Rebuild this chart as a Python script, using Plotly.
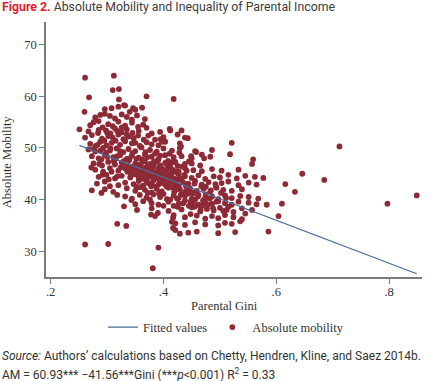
import plotly.graph_objects as go

# ---------------- data ----------------
# Parental Gini (x) and Absolute Mobility (y), grouped by band of mobility
gini_top = [
    0.261, 0.312, 0.310, 0.321, 0.268, 0.321, 0.370, 0.418, 0.330, 0.260, 0.346, 0.362, 0.251, 0.411,
    0.296, 0.308, 0.320, 0.332, 0.350, 0.340,
    0.279, 0.288, 0.296, 0.305, 0.314, 0.326, 0.335, 0.353, 0.367, 0.344,
    0.270, 0.276, 0.285, 0.302, 0.320, 0.332, 0.344, 0.364, 0.310, 0.292, 0.355,
    0.267, 0.285, 0.314, 0.326, 0.335, 0.356, 0.370, 0.394, 0.412, 0.432, 0.300, 0.345, 0.379,
]
am_top = [
    63.6, 64.0, 61.2, 61.4, 59.8, 59.4, 60.0, 59.5, 58.3, 57.0, 57.7, 57.8, 53.6, 53.7,
    57.5, 57.7, 58.0, 58.2, 57.4, 57.0,
    55.9, 56.4, 56.6, 56.2, 55.7, 56.5, 56.0, 56.3, 55.6, 55.5,
    54.4, 55.0, 55.2, 54.6, 55.1, 54.3, 54.9, 54.5, 54.2, 54.0, 54.1,
    53.2, 53.5, 53.8, 53.0, 53.6, 53.3, 53.9, 53.1, 53.4, 53.4, 53.0, 52.9, 52.8,
]

gini_upper = [
    0.261, 0.273, 0.291, 0.302, 0.320, 0.329, 0.338, 0.347, 0.373, 0.385, 0.400, 0.438, 0.425, 0.443, 0.310, 0.355, 0.365, 0.395,
    0.270, 0.288, 0.299, 0.308, 0.323, 0.332, 0.344, 0.358, 0.370, 0.379, 0.391, 0.403, 0.429, 0.521, 0.280, 0.315, 0.350, 0.397,
    0.267, 0.279, 0.293, 0.305, 0.317, 0.329, 0.338, 0.350, 0.361, 0.376, 0.388, 0.400, 0.415, 0.429, 0.456, 0.486, 0.431, 0.298, 0.323, 0.345, 0.368,
]
am_upper = [
    52.0, 52.5, 51.8, 52.3, 52.6, 51.7, 52.2, 51.9, 52.4, 51.6, 52.1, 52.0, 52.6, 51.9, 52.0, 52.4, 51.6, 51.7,
    50.8, 51.2, 50.5, 51.0, 50.6, 51.3, 50.9, 50.4, 51.1, 50.7, 50.5, 51.2, 50.9, 51.0, 50.4, 51.4, 51.0, 51.2,
    49.7, 49.3, 50.0, 49.5, 49.9, 49.2, 49.8, 49.4, 50.1, 49.6, 49.3, 49.9, 49.5, 50.0, 49.4, 49.6, 50.3, 49.1, 49.4, 49.0, 49.2,
]

gini_middle = [
    0.273, 0.285, 0.296, 0.311, 0.323, 0.335, 0.344, 0.356, 0.367, 0.379, 0.391, 0.403, 0.418, 0.432, 0.450, 0.468, 0.483, 0.518, 0.458, 0.428, 0.449, 0.472, 0.290, 0.315, 0.340, 0.362, 0.385,
    0.276, 0.291, 0.302, 0.314, 0.326, 0.338, 0.350, 0.358, 0.367, 0.376, 0.385, 0.394, 0.403, 0.412, 0.421, 0.438, 0.450, 0.465, 0.557, 0.559, 0.330, 0.345, 0.372, 0.390, 0.408, 0.425, 0.445,
    0.279, 0.293, 0.305, 0.320, 0.332, 0.344, 0.353, 0.361, 0.370, 0.379, 0.388, 0.397, 0.406, 0.415, 0.427, 0.438, 0.453, 0.468, 0.486, 0.503, 0.533, 0.340, 0.357, 0.366, 0.374, 0.383, 0.392, 0.401, 0.410, 0.420,
]
am_middle = [
    48.4, 48.0, 48.7, 48.2, 48.6, 47.9, 48.5, 48.1, 48.8, 48.3, 47.8, 48.6, 48.2, 48.4, 48.0, 48.7, 48.3, 48.8, 49.2, 49.1, 48.4, 48.0, 47.8, 47.9, 48.0, 47.8, 48.9,
    47.0, 46.6, 47.3, 46.8, 47.2, 46.5, 47.0, 46.7, 47.4, 46.9, 47.2, 46.6, 47.1, 46.8, 47.3, 46.9, 47.0, 46.6, 46.9, 47.8, 47.5, 46.4, 46.5, 47.6, 47.5, 46.5, 47.4,
    45.8, 45.4, 46.1, 45.6, 46.0, 45.3, 45.9, 45.5, 46.2, 45.7, 45.3, 46.0, 45.6, 45.9, 45.4, 46.1, 45.7, 45.5, 45.9, 45.6, 45.8, 46.3, 46.3, 45.2, 46.0, 46.3, 45.8, 45.2, 46.3, 45.5,
]

gini_lower = [
    0.285, 0.299, 0.314, 0.326, 0.341, 0.350, 0.356, 0.364, 0.373, 0.382, 0.391, 0.400, 0.409, 0.418, 0.427, 0.438, 0.450, 0.462, 0.474, 0.489, 0.500, 0.515, 0.530, 0.545, 0.562, 0.577, 0.646, 0.346, 0.360, 0.369, 0.378, 0.387, 0.396, 0.405, 0.414, 0.423, 0.432,
    0.282, 0.296, 0.320, 0.332, 0.347, 0.356, 0.364, 0.373, 0.382, 0.391, 0.400, 0.409, 0.418, 0.427, 0.435, 0.444, 0.456, 0.468, 0.480, 0.492, 0.503, 0.515, 0.533, 0.551, 0.565, 0.616, 0.685, 0.352, 0.369, 0.378, 0.387, 0.396, 0.405, 0.414, 0.422, 0.440,
    0.273, 0.296, 0.311, 0.335, 0.350, 0.358, 0.367, 0.379, 0.388, 0.397, 0.409, 0.421, 0.429, 0.438, 0.447, 0.459, 0.471, 0.483, 0.494, 0.506, 0.521, 0.539, 0.633, 0.290, 0.305, 0.372, 0.392, 0.415, 0.452, 0.475,
]
am_lower = [
    44.4, 44.8, 44.1, 44.6, 44.3, 44.9, 44.2, 44.7, 44.4, 44.0, 44.8, 44.3, 44.6, 44.1, 44.9, 44.5, 44.2, 44.7, 44.0, 44.5, 44.3, 44.8, 44.1, 44.6, 44.4, 44.2, 45.0, 45.0, 44.0, 45.0, 44.9, 44.2, 45.0, 44.0, 45.0, 43.9, 44.0,
    43.1, 43.5, 42.8, 43.3, 43.0, 43.6, 42.7, 43.2, 43.7, 42.9, 43.4, 43.0, 43.5, 42.8, 43.3, 43.1, 43.6, 42.9, 43.4, 43.0, 43.2, 43.5, 42.8, 43.3, 42.9, 43.0, 43.8, 42.5, 43.7, 42.6, 42.5, 43.7, 42.6, 43.8, 42.5, 42.6,
    41.8, 42.0, 41.5, 42.2, 41.7, 42.4, 41.9, 41.4, 42.1, 41.6, 42.3, 41.8, 42.0, 41.5, 42.2, 41.7, 42.1, 41.6, 42.3, 41.9, 41.7, 42.0, 41.5, 41.3, 42.6, 41.3, 41.2, 42.4, 41.2, 42.5,
]

gini_bottom = [
    0.318, 0.332, 0.344, 0.358, 0.370, 0.382, 0.394, 0.406, 0.418, 0.427, 0.438, 0.450, 0.462, 0.474, 0.486, 0.497, 0.509, 0.521, 0.536, 0.551, 0.568, 0.376, 0.400, 0.412, 0.444, 0.456,
    0.343, 0.350, 0.364, 0.379, 0.391, 0.409, 0.427, 0.438, 0.450, 0.462, 0.474, 0.486, 0.497, 0.509, 0.521, 0.533, 0.551, 0.565, 0.583, 0.610, 0.400, 0.418, 0.445, 0.470, 0.797,
    0.330, 0.353, 0.379, 0.409, 0.432, 0.450, 0.465, 0.477, 0.489, 0.500, 0.512, 0.524, 0.539, 0.557, 0.545, 0.390, 0.425, 0.455,
    0.378, 0.385, 0.417, 0.418, 0.438, 0.459, 0.474, 0.486, 0.497, 0.509, 0.524, 0.539, 0.604, 0.448,
    0.318, 0.334, 0.415, 0.417, 0.421, 0.438, 0.456, 0.474, 0.497, 0.509, 0.521, 0.536,
    0.421, 0.429, 0.444, 0.459, 0.497, 0.527, 0.586,
    0.261, 0.302, 0.391, 0.381, 0.712, 0.849,
]
am_bottom = [
    40.9, 40.6, 40.2, 40.9, 40.4, 41.0, 40.5, 40.1, 40.8, 40.3, 40.7, 40.2, 40.9, 40.4, 40.6, 40.1, 40.8, 40.3, 40.7, 40.5, 40.2, 40.0, 41.1, 40.0, 41.2, 40.0,
    39.9, 39.1, 39.7, 39.3, 39.0, 39.6, 39.2, 39.8, 39.4, 39.0, 39.5, 39.2, 39.7, 39.3, 39.0, 39.6, 39.4, 39.1, 39.0, 39.2, 38.8, 38.8, 38.8, 38.9, 39.2,
    38.7, 38.0, 38.3, 37.8, 38.1, 38.5, 37.7, 38.2, 37.9, 38.4, 38.0, 37.6, 38.3, 38.0, 37.3, 37.4, 38.6, 38.6,
    37.1, 36.8, 36.5, 37.0, 36.6, 36.9, 36.3, 36.8, 36.4, 37.0, 36.6, 36.2, 36.8, 37.2,
    35.3, 34.9, 35.7, 34.5, 35.4, 35.1, 35.6, 35.2, 35.0, 35.5, 35.3, 35.8,
    34.1, 33.4, 33.6, 33.8, 33.5, 33.7, 33.8,
    31.3, 31.4, 30.7, 26.7, 50.3, 40.8,
]

gini_dense = [
    0.360, 0.368, 0.376, 0.384, 0.392, 0.400, 0.408, 0.362, 0.371, 0.380, 0.389, 0.398, 0.407, 0.416,
    0.355, 0.364, 0.374, 0.383, 0.393, 0.402, 0.411, 0.420, 0.429, 0.437, 0.441, 0.433, 0.424, 0.415,
    0.348, 0.342, 0.336, 0.339, 0.352, 0.371, 0.394, 0.411,
    0.443, 0.452, 0.461, 0.470, 0.479, 0.488, 0.448, 0.457, 0.466, 0.475, 0.484, 0.493,
    0.502, 0.511, 0.515, 0.506, 0.494, 0.482, 0.467, 0.455, 0.431, 0.424, 0.435, 0.419,
    0.284, 0.295, 0.306, 0.318, 0.329, 0.288, 0.300, 0.312, 0.324, 0.335, 0.326,
    0.318, 0.306, 0.298, 0.283, 0.276, 0.272, 0.286, 0.308, 0.318, 0.303, 0.292,
]
am_dense = [
    46.9, 46.2, 45.5, 44.7, 43.9, 43.1, 42.4, 44.3, 43.5, 42.8, 45.1, 45.9, 46.6, 47.3,
    45.0, 45.8, 46.6, 47.4, 46.3, 44.6, 43.6, 42.9, 43.9, 44.8, 45.6, 46.4, 45.2, 44.2,
    46.0, 44.6, 45.4, 47.6, 47.9, 48.2, 48.5, 48.9,
    42.2, 41.4, 40.6, 39.8, 39.0, 38.3, 39.6, 38.9, 38.1, 41.0, 41.8, 42.5,
    41.3, 40.3, 38.6, 37.8, 39.6, 40.2, 42.6, 43.1, 41.0, 40.2, 39.3, 41.5,
    52.9, 51.4, 49.9, 48.4, 47.0, 49.5, 48.3, 47.4, 46.2, 52.6, 54.0,
    53.3, 52.8, 53.4, 50.6, 49.8, 46.2, 46.9, 45.4, 44.5, 43.9, 44.8,
]

# Regression reported in the note: AM = 60.93 - 41.56 * Gini
fit_intercept = 60.93
fit_slope = -41.56

x_tick_values = [0.2, 0.4, 0.6, 0.8]
x_tick_labels = [".2", ".4", ".6", ".8"]
y_tick_values = [30, 40, 50, 60, 70]
y_tick_labels = ["30", "40", "50", "60", "70"]

# ---------------- assemble ----------------
pairs = [(gini_top, am_top), (gini_upper, am_upper), (gini_middle, am_middle),
         (gini_lower, am_lower), (gini_bottom, am_bottom), (gini_dense, am_dense)]
gini, mobility = [], []
for gx, ay in pairs:
    assert len(gx) == len(ay), (len(gx), len(ay))
    gini += gx
    mobility += ay

fit_x = [min(gini), max(gini)]
fit_y = [fit_intercept + fit_slope * v for v in fit_x]

SERIF = "Liberation Serif, DejaVu Serif, serif"
SANS = "Roboto, Liberation Sans, sans-serif"
AXIS_GRAY = "#7a7a7a"
TEXT = "#333333"

fig = go.Figure()
fig.add_trace(go.Scatter(
    x=gini, y=mobility, mode="markers", name="Absolute mobility",
    marker=dict(color="#8d2a35", size=5.8, line=dict(width=0)),
    legendrank=2, hoverinfo="skip"))
fig.add_trace(go.Scatter(
    x=fit_x, y=fit_y, mode="lines", name="Fitted values",
    line=dict(color="#4a6e9f", width=1.2),
    legendrank=1, hoverinfo="skip"))

L, R, T, B = 46, 18, 22, 103.5
W, H = 440, 381
pw, ph = W - L - R, H - T - B


def px_to_paper(px, py):
    return (px - L) / pw, (H - B - py) / ph


ann = []
x0, y0 = px_to_paper(0, 6.5)
ann.append(dict(x=x0, y=y0, xref="paper", yref="paper", xanchor="left", yanchor="middle",
                showarrow=False, align="left",
                text='<span style="color:#e0202e"><b>Figure 2.</b></span> Absolute Mobility and Inequality of Parental Income',
                font=dict(family=SANS, size=12.3, color="#3c3c3c")))
x0, y0 = px_to_paper(6.5, 162)
ann.append(dict(x=x0, y=y0, xref="paper", yref="paper", xanchor="center", yanchor="middle",
                showarrow=False, textangle=-90, text="Absolute Mobility",
                font=dict(family=SERIF, size=12.5, color=TEXT)))
x0, y0 = px_to_paper(224, 307)
ann.append(dict(x=x0, y=y0, xref="paper", yref="paper", xanchor="center", yanchor="middle",
                showarrow=False, text="Parental Gini",
                font=dict(family=SERIF, size=12.5, color=TEXT)))
x0, y0 = px_to_paper(0, 356.5)
ann.append(dict(x=x0, y=y0, xref="paper", yref="paper", xanchor="left", yanchor="middle",
                showarrow=False, align="left",
                text="<i>Source:</i> Authors’ calculations based on Chetty, Hendren, Kline, and Saez 2014b.",
                font=dict(family=SANS, size=12, color=TEXT)))
x0, y0 = px_to_paper(0, 375)
ann.append(dict(x=x0, y=y0, xref="paper", yref="paper", xanchor="left", yanchor="middle",
                showarrow=False, align="left",
                text="AM = 60.93*** −41.56***Gini (***<i>p</i>&lt;0.001) R<sup>2</sup> = 0.33",
                font=dict(family=SANS, size=12, color=TEXT)))

lx, ly = px_to_paper(226, 328)

axis_common = dict(showline=True, linecolor=AXIS_GRAY, linewidth=1.5, ticks="outside",
                   ticklen=5, tickwidth=1.3, tickcolor=AXIS_GRAY, showgrid=False,
                   zeroline=False, automargin=False,
                   tickfont=dict(family=SERIF, size=12.5, color=TEXT))

fig.update_layout(
    width=W, height=H, margin=dict(l=L, r=R, t=T, b=B, pad=0, autoexpand=False),
    paper_bgcolor="white", plot_bgcolor="white",
    xaxis=dict(range=[0.1917, 0.8583], tickvals=x_tick_values, ticktext=x_tick_labels,
               ticklabelstandoff=-3, **axis_common),
    yaxis=dict(range=[25.01, 74.39], tickvals=y_tick_values, ticktext=y_tick_labels, **axis_common),
    showlegend=True,
    legend=dict(orientation="h", x=lx, y=ly, xanchor="center", yanchor="middle",
                font=dict(family=SERIF, size=12.5, color=TEXT), bgcolor="rgba(0,0,0,0)"),
    annotations=ann,
    hovermode=False,
)

fig.write_html("out.html", config={"displayModeBar": False},
               post_script="document.body.style.margin='0';document.body.style.padding='0';")
